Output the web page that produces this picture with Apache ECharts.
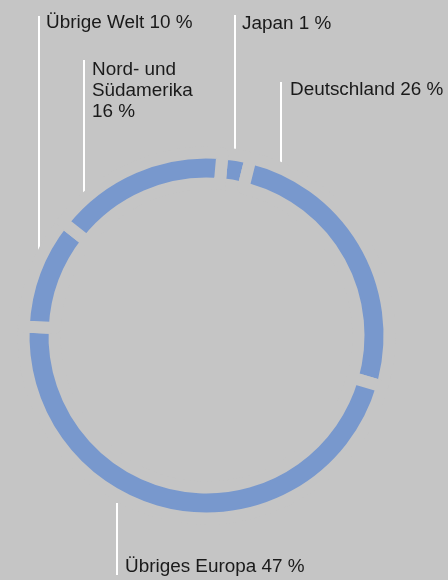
<!DOCTYPE html>
<html>
<head>
<meta charset="utf-8">
<script src="https://cdn.jsdelivr.net/npm/echarts@6/dist/echarts.min.js"></script>
<style>
  html, body { margin: 0; padding: 0; background: #c5c5c5; }
  #chart { width: 448px; height: 580px; }
</style>
</head>
<body>
<div id="chart"></div>
<script>
  // Anteile am Umsatz (im Uhrzeigersinn ab 12 Uhr)
  const regions = ['Japan', 'Deutschland', 'Übriges Europa', 'Übrige Welt', 'Nord- und\nSüdamerika\n'];
  const shares = [1, 26, 47, 10, 16];
  const separators = [' ', ' ', ' ', ' ', ''];

  // wo die Beschriftungen stehen: Text links oben, weisse Linie (x, von, bis)
  const labelSpots = [
    { tx: 242, ty: 13, lx: 235, l0: 15, l1: 152 },
    { tx: 290, ty: 79, lx: 281, l0: 82, l1: 163 },
    { tx: 125, ty: 556, lx: 117, l0: 575, l1: 503 },
    { tx: 46, ty: 12, lx: 39, l0: 16, l1: 256 },
    { tx: 92, ty: 59, lx: 84, l0: 60, l1: 194 }
  ];

  const bg = '#c5c5c5';
  const ring = '#7898cd';

  const option = {
    backgroundColor: bg,
    animation: false,
    series: [
      {
        type: 'pie',
        center: [206.5, 335.5],
        radius: [152, 183],
        startAngle: 85,
        clockwise: true,
        minAngle: 9,
        avoidLabelOverlap: false,
        itemStyle: {
          color: ring,
          borderColor: bg,
          borderWidth: 12
        },
        emphasis: { disabled: true },
        label: {
          show: true,
          position: 'outside',
          color: '#1a1a1a',
          fontFamily: 'Liberation Sans, Arial, sans-serif',
          fontSize: 18.9,
          lineHeight: 21,
          align: 'left',
          formatter: (p) => p.name + separators[p.dataIndex] + p.value + ' %'
        },
        labelLine: {
          show: true,
          maxSurfaceAngle: 180,
          minTurnAngle: 0,
          lineStyle: { color: '#ffffff', width: 2 }
        },
        labelLayout: (p) => {
          const s = labelSpots[p.dataIndex];
          // erster Punkt am Ring, letzter am Text
          return {
            x: s.tx,
            y: s.ty,
            align: 'left',
            verticalAlign: 'top',
            labelLinePoints: [[s.lx, s.l1], [s.lx, (s.l0 + s.l1) / 2], [s.lx, s.l0]]
          };
        },
        data: regions.map((name, i) => ({ name: name, value: shares[i] }))
      }
    ]
  };

  const myChart = echarts.init(document.getElementById('chart'));
  myChart.setOption(option);
</script>
</body>
</html>
